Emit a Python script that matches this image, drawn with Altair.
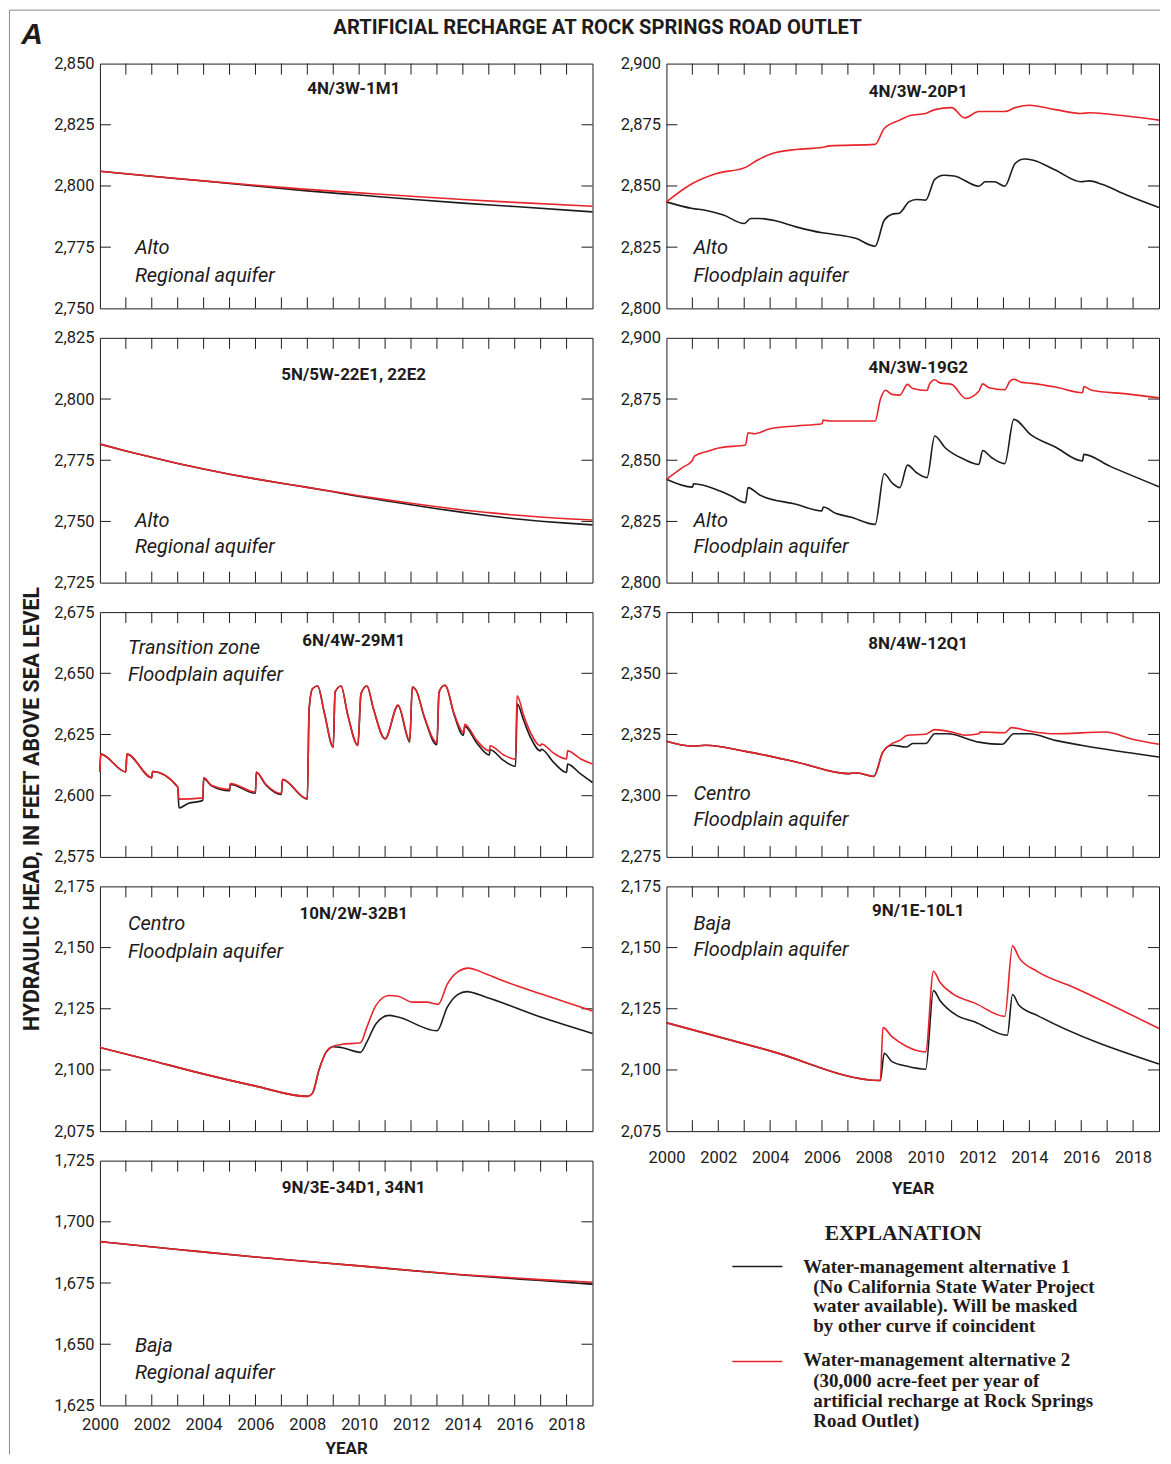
import altair as alt
import pandas as pd

FONT = "Roboto"
SERIF = "Liberation Serif"
BLACK = "#1e1b1c"
RED = "#e8242b"
GRAY = "#8a8a8a"
W, H = 493, 245
TICK = 11

X_DOMAIN = [2000, 2019]
X_TICK_YEARS = list(range(2001, 2019))
X_LABEL_YEARS = list(range(2000, 2019, 2))

MAIN_TITLE = ["ARTIFICIAL RECHARGE AT ROCK SPRINGS ROAD OUTLET"]
PANEL_LETTER = ["A"]
Y_TITLE = ["HYDRAULIC HEAD, IN FEET ABOVE SEA LEVEL"]
X_TITLE = "YEAR"

# ---- 4N/3W-1M1 (Alto, Regional aquifer)
w1m1_alt1 = [(2000, 2806.0), (2002, 2804.0), (2004, 2802.0), (2006, 2800.0), (2008, 2798.0),
             (2010, 2796.3), (2012, 2794.6), (2014, 2793.0), (2016, 2791.6), (2019, 2789.4)]
w1m1_alt2 = [(2000, 2806.0), (2002, 2804.0), (2004, 2802.1), (2006, 2800.3), (2008, 2798.6),
             (2010, 2797.2), (2012, 2795.8), (2014, 2794.5), (2016, 2793.3), (2019, 2791.7)]

# ---- 4N/3W-20P1 (Alto, Floodplain aquifer)
w20p1_alt1 = [(2000, 2843.5), (2001.0, 2840.8), (2001.5, 2840.1), (2002.2, 2838.1), (2003.0, 2834.7),
              (2003.25, 2836.7), (2003.6, 2836.7), (2004.2, 2835.8), (2005.0, 2833.3), (2006.0, 2830.9),
              (2006.4, 2830.3), (2007.3, 2828.6), (2008.05, 2825.4), (2008.4, 2836.0), (2008.7, 2838.4),
              (2009.0, 2839.0), (2009.35, 2843.5), (2009.65, 2844.5), (2010.0, 2844.2), (2010.35, 2852.7),
              (2010.7, 2854.4), (2011.1, 2854.1), (2012.05, 2849.9), (2012.3, 2851.7), (2012.65, 2851.7),
              (2013.05, 2849.9), (2013.45, 2859.2), (2013.8, 2861.0), (2014.15, 2860.5), (2015.0, 2856.5),
              (2016.0, 2851.7), (2016.3, 2852.1), (2016.8, 2850.7), (2017.75, 2846.3), (2019.0, 2841.2)]
w20p1_alt2 = [(2000, 2843.5), (2001.0, 2851.0), (2001.9, 2855.0), (2003.05, 2857.6), (2003.5, 2860.5),
              (2004.0, 2863.0), (2005.0, 2864.9), (2006.0, 2865.7), (2006.3, 2866.4), (2008.05, 2867.0),
              (2008.4, 2873.5), (2009.0, 2876.9), (2009.4, 2878.8), (2010.0, 2879.6), (2010.35, 2881.2),
              (2011.0, 2882.0), (2011.5, 2877.8), (2012.05, 2880.4), (2013.05, 2880.4), (2013.45, 2882.0),
              (2014.0, 2883.0), (2015.0, 2881.2), (2016.0, 2879.6), (2016.3, 2879.9), (2017.1, 2879.3),
              (2019.0, 2876.9)]

# ---- 5N/5W-22E1, 22E2 (Alto, Regional aquifer)
w22e_alt1 = [(2000, 2781.6), (2001, 2778.8), (2002, 2776.2), (2003, 2773.7), (2004, 2771.4), (2005, 2769.3),
             (2006, 2767.4), (2007, 2765.6), (2008, 2763.9), (2009, 2762.1), (2010, 2760.2), (2011, 2758.5),
             (2012, 2756.8), (2013, 2755.2), (2014, 2753.7), (2015, 2752.3), (2016, 2751.1), (2017, 2750.1),
             (2018, 2749.3), (2019, 2748.6)]
w22e_alt2 = [(2000, 2781.6), (2001, 2778.8), (2002, 2776.2), (2003, 2773.7), (2004, 2771.4), (2005, 2769.3),
             (2006, 2767.4), (2007, 2765.6), (2008, 2763.9), (2009, 2762.2), (2010, 2760.5), (2011, 2758.9),
             (2012, 2757.4), (2013, 2756.0), (2014, 2754.7), (2015, 2753.6), (2016, 2752.6), (2017, 2751.8),
             (2018, 2751.1), (2019, 2750.6)]

# ---- 4N/3W-19G2 (Alto, Floodplain aquifer)
w19g2_alt1 = [(2000, 2842.2), (2001.0, 2839.0), (2001.05, 2840.4), (2002.07, 2837.4), (2002.5, 2835.4),
              (2003.05, 2832.7), (2003.15, 2838.8), (2003.6, 2835.8), (2005.0, 2832.0), (2006.0, 2829.3),
              (2006.05, 2830.9), (2006.55, 2828.2), (2007.1, 2826.8), (2008.05, 2823.8), (2008.4, 2844.5),
              (2008.7, 2840.8), (2009.0, 2838.8), (2009.3, 2848.0), (2009.65, 2844.9), (2010.05, 2842.9),
              (2010.35, 2859.9), (2010.75, 2855.1), (2011.5, 2850.3), (2012.05, 2848.3), (2012.2, 2854.0),
              (2012.55, 2851.0), (2013.05, 2848.6), (2013.4, 2866.7), (2014.05, 2860.5), (2015.0, 2855.4),
              (2016.05, 2849.7), (2016.1, 2852.4), (2017.1, 2847.6), (2019.0, 2839.2)]
w19g2_alt2 = [(2000, 2842.2), (2000.6, 2846.9), (2001.0, 2849.9), (2001.08, 2851.7), (2001.6, 2853.7),
              (2002.07, 2855.1), (2003.05, 2856.2), (2003.15, 2861.2), (2003.4, 2860.8), (2004.0, 2862.9),
              (2005.0, 2864.0), (2006.0, 2864.9), (2006.05, 2866.4), (2006.3, 2866.0), (2008.05, 2866.0),
              (2008.25, 2874.8), (2008.45, 2878.6), (2008.7, 2876.9), (2009.0, 2876.6), (2009.3, 2881.0),
              (2009.5, 2879.3), (2010.05, 2878.5), (2010.15, 2881.2), (2010.35, 2882.9), (2010.55, 2881.6),
              (2011.0, 2881.0), (2011.55, 2875.2), (2012.05, 2878.2), (2012.2, 2881.2), (2012.45, 2879.6),
              (2013.05, 2878.8), (2013.25, 2882.3), (2013.4, 2883.1), (2013.7, 2881.8), (2014.1, 2881.4),
              (2015.0, 2879.9), (2016.05, 2877.6), (2016.1, 2880.1), (2016.4, 2878.6), (2017.75, 2877.1),
              (2019.0, 2875.5)]

# ---- 6N/4W-29M1 (Transition zone, Floodplain aquifer)
w29m1_alt1 = [(2000.0, 2609.7), (2000.03, 2617.0), (2001.0, 2609.7), (2001.04, 2617.0), (2002.0, 2607.4),
              (2002.03, 2609.9), (2003.0, 2603.6), (2003.05, 2595.0), (2003.4, 2596.8), (2003.97, 2598.0),
              (2004.0, 2607.0), (2004.3, 2604.0), (2005.0, 2602.0), (2005.03, 2604.6), (2006.0, 2601.0),
              (2006.03, 2609.5), (2006.4, 2604.4), (2007.0, 2600.5), (2007.04, 2606.5), (2008.0, 2598.6),
              (2008.07, 2635.5), (2008.2, 2643.7), (2008.4, 2644.8), (2008.65, 2634.2), (2009.0, 2619.8),
              (2009.07, 2642.3), (2009.3, 2644.8), (2009.55, 2633.5), (2009.95, 2620.5), (2010.07, 2641.6),
              (2010.3, 2644.8), (2010.55, 2635.5), (2011.0, 2623.2), (2011.5, 2636.8), (2011.95, 2622.0),
              (2012.05, 2644.4), (2012.2, 2643.0), (2012.5, 2632.5), (2013.0, 2620.8), (2013.08, 2642.3),
              (2013.3, 2645.1), (2013.35, 2644.8), (2013.65, 2633.5), (2014.02, 2624.7), (2014.07, 2628.3),
              (2014.55, 2621.3), (2015.02, 2616.6), (2015.05, 2618.8), (2015.58, 2614.3), (2016.03, 2612.0),
              (2016.1, 2637.4), (2016.35, 2630.6), (2016.61, 2623.8), (2016.99, 2618.3), (2017.03, 2619.0),
              (2017.5, 2613.6), (2018.0, 2609.5), (2018.04, 2612.9), (2018.55, 2608.8), (2019.0, 2605.4)]
w29m1_alt2 = [(2000.0, 2609.7), (2000.03, 2617.0), (2001.0, 2609.7), (2001.04, 2617.0), (2002.0, 2607.4),
              (2002.03, 2609.9), (2003.0, 2603.6), (2003.05, 2598.6), (2003.97, 2599.1), (2004.0, 2607.4),
              (2004.3, 2604.3), (2005.0, 2602.6), (2005.03, 2605.0), (2006.0, 2601.5), (2006.03, 2609.7),
              (2006.4, 2604.7), (2007.0, 2600.9), (2007.04, 2606.7), (2008.0, 2598.8), (2008.07, 2635.5),
              (2008.2, 2643.7), (2008.4, 2644.8), (2008.65, 2634.2), (2009.0, 2619.9), (2009.07, 2642.3),
              (2009.3, 2644.8), (2009.55, 2633.5), (2009.95, 2620.6), (2010.07, 2641.6), (2010.3, 2644.8),
              (2010.55, 2635.5), (2011.0, 2623.3), (2011.5, 2637.0), (2011.95, 2622.6), (2012.05, 2644.4),
              (2012.2, 2643.0), (2012.5, 2632.8), (2013.0, 2621.7), (2013.08, 2642.3), (2013.3, 2645.1),
              (2013.35, 2644.8), (2013.65, 2634.0), (2014.04, 2625.8), (2014.07, 2629.2), (2014.55, 2622.4),
              (2015.02, 2618.3), (2015.05, 2620.4), (2015.58, 2616.6), (2016.03, 2614.9), (2016.09, 2640.8),
              (2016.35, 2632.6), (2016.61, 2625.8), (2016.99, 2620.4), (2017.03, 2621.1), (2017.5, 2617.4),
              (2018.0, 2615.0), (2018.04, 2618.3), (2018.55, 2615.0), (2019.0, 2612.9)]

# ---- 8N/4W-12Q1 (Centro, Floodplain aquifer)
w12q1_alt1 = [(2000, 2322.2), (2001.0, 2320.2), (2001.5, 2320.6), (2003.05, 2318.1), (2005.0, 2313.8),
              (2007.0, 2309.0), (2007.3, 2309.4), (2008.0, 2307.9), (2008.35, 2317.9), (2008.7, 2320.6),
              (2009.25, 2319.9), (2009.5, 2321.3), (2010.0, 2321.3), (2010.35, 2325.3), (2010.85, 2325.3),
              (2012.05, 2321.9), (2012.95, 2321.0), (2013.4, 2325.3), (2014.0, 2325.3), (2015.0, 2322.6),
              (2016.0, 2320.6), (2019.0, 2315.8)]
w12q1_alt2 = [(2000, 2322.2), (2001.0, 2320.2), (2001.5, 2320.6), (2003.05, 2318.1), (2005.0, 2313.8),
              (2007.0, 2309.0), (2007.3, 2309.4), (2008.0, 2307.9), (2008.35, 2317.9), (2008.7, 2321.3),
              (2009.0, 2322.6), (2009.3, 2324.7), (2010.0, 2325.1), (2010.35, 2327.0), (2011.0, 2326.0),
              (2011.55, 2324.7), (2012.05, 2325.3), (2012.1, 2326.0), (2013.05, 2325.7), (2013.3, 2327.8),
              (2014.0, 2326.4), (2015.0, 2325.3), (2016.95, 2326.0), (2017.9, 2323.3), (2019.0, 2321.0)]

# ---- 10N/2W-32B1 (Centro, Floodplain aquifer)
w32b1_alt1 = [(2000, 2109.2), (2001.83, 2104.3), (2003.9, 2098.6), (2005.97, 2093.5), (2008.0, 2089.2),
              (2008.2, 2090.5), (2008.45, 2100.0), (2008.73, 2107.4), (2009.0, 2109.5), (2009.3, 2109.2),
              (2010.05, 2107.2), (2010.3, 2111.5), (2010.65, 2118.9), (2011.15, 2122.3), (2011.5, 2121.6),
              (2013.0, 2116.0), (2013.4, 2125.7), (2013.8, 2130.8), (2014.15, 2132.0), (2014.9, 2129.7),
              (2017.0, 2121.6), (2019.0, 2114.9)]
w32b1_alt2 = [(2000, 2109.2), (2001.83, 2104.3), (2003.9, 2098.6), (2005.97, 2093.5), (2008.0, 2089.2),
              (2008.2, 2090.5), (2008.45, 2100.0), (2008.73, 2107.4), (2009.0, 2109.7), (2009.3, 2110.4),
              (2010.05, 2111.1), (2010.3, 2117.6), (2010.65, 2126.4), (2011.15, 2130.4), (2011.5, 2130.1),
              (2012.05, 2127.7), (2012.6, 2127.7), (2013.05, 2126.8), (2013.4, 2135.1), (2013.8, 2140.1),
              (2014.2, 2141.6), (2014.9, 2139.2), (2015.6, 2136.2), (2017.0, 2131.1), (2019.0, 2124.1)]

# ---- 9N/1E-10L1 (Baja, Floodplain aquifer)
w10l1_alt1 = [(2000, 2119.3), (2004, 2107.8), (2008.25, 2095.7), (2008.4, 2106.8), (2008.7, 2103.4),
              (2009.25, 2101.6), (2010.0, 2100.3), (2010.3, 2132.4), (2010.55, 2128.4), (2011.2, 2122.3),
              (2011.9, 2119.6), (2013.15, 2114.2), (2013.35, 2130.8), (2013.6, 2126.4), (2014.3, 2122.3),
              (2019.0, 2102.4)]
w10l1_alt2 = [(2000, 2119.3), (2004, 2107.8), (2008.25, 2095.7), (2008.35, 2117.3), (2008.7, 2113.6),
              (2009.25, 2109.7), (2010.0, 2107.4), (2010.3, 2140.3), (2010.55, 2135.8), (2011.05, 2131.1),
              (2011.9, 2127.3), (2013.05, 2121.9), (2013.35, 2150.7), (2013.6, 2145.9), (2014.3, 2140.3),
              (2015.7, 2133.8), (2019.0, 2116.9)]

# ---- 9N/3E-34D1, 34N1 (Baja, Regional aquifer)
w34d1_alt1 = [(2000, 1691.9), (2003, 1688.7), (2006, 1685.6), (2010, 1682.0), (2014, 1678.3),
              (2017, 1676.0), (2019, 1674.5)]
w34d1_alt2 = [(2000, 1691.9), (2003, 1688.7), (2006, 1685.6), (2010, 1682.0), (2014, 1678.4),
              (2017, 1676.4), (2019, 1675.3)]

LEGEND_HEAD = ["EXPLANATION"]
LEGEND_1 = ["Water-management alternative 1", "(No California State Water Project",
            "water available). Will be masked", "by other curve if coincident"]
LEGEND_2 = ["Water-management alternative 2", "(30,000 acre-feet per year of",
            "artificial recharge at Rock Springs", "Road Outlet)"]

PANELS = [
    dict(title="4N/3W-1M1", alt1=w1m1_alt1, alt2=w1m1_alt2, dom=(2750, 2850),
         tpos=(254, 25), lab=["Alto", "Regional aquifer"], lpos=(35, 185, 213)),
    dict(title="4N/3W-20P1", alt1=w20p1_alt1, alt2=w20p1_alt2, dom=(2800, 2900),
         tpos=(252, 28), lab=["Alto", "Floodplain aquifer"], lpos=(27, 185, 213)),
    dict(title="5N/5W-22E1, 22E2", alt1=w22e_alt1, alt2=w22e_alt2, dom=(2725, 2825),
         tpos=(254, 37), lab=["Alto", "Regional aquifer"], lpos=(35, 183, 209)),
    dict(title="4N/3W-19G2", alt1=w19g2_alt1, alt2=w19g2_alt2, dom=(2800, 2900),
         tpos=(252, 30), lab=["Alto", "Floodplain aquifer"], lpos=(27, 183, 209)),
    dict(title="6N/4W-29M1", alt1=w29m1_alt1, alt2=w29m1_alt2, dom=(2575, 2675),
         tpos=(254, 29), lab=["Transition zone", "Floodplain aquifer"], lpos=(28, 36, 63)),
    dict(title="8N/4W-12Q1", alt1=w12q1_alt1, alt2=w12q1_alt2, dom=(2275, 2375),
         tpos=(252, 32), lab=["Centro", "Floodplain aquifer"], lpos=(27, 182, 208)),
    dict(title="10N/2W-32B1", alt1=w32b1_alt1, alt2=w32b1_alt2, dom=(2075, 2175),
         tpos=(254, 28), lab=["Centro", "Floodplain aquifer"], lpos=(28, 38, 66)),
    dict(title="9N/1E-10L1", alt1=w10l1_alt1, alt2=w10l1_alt2, dom=(2075, 2175),
         tpos=(252, 25), lab=["Baja", "Floodplain aquifer"], lpos=(27, 38, 64),
         xaxis=True, xpad=18, tpad=15),
    dict(title="9N/3E-34D1, 34N1", alt1=w34d1_alt1, alt2=w34d1_alt2, dom=(1625, 1725),
         tpos=(254, 27), lab=["Baja", "Regional aquifer"], lpos=(35, 186, 213),
         xaxis=True, xpad=11, tpad=8),
]


def one_row():
    return pd.DataFrame({"k": [0]})


def text_layer(txt, x, y, size, weight="normal", style="normal", font=FONT, align="center", angle=0):
    return alt.Chart(pd.DataFrame({"t": [txt]})).mark_text(
        font=font, fontSize=size, fontWeight=weight, fontStyle=style, align=align,
        baseline="middle", angle=angle, color=BLACK
    ).encode(text="t:N", x=alt.value(x), y=alt.value(y))


def make_panel(p, extra=None):
    lo, hi = p["dom"]
    yvals = list(range(lo, hi + 1, 25))
    if p.get("xaxis"):
        xaxis = alt.Axis(values=X_LABEL_YEARS, format="d", title=X_TITLE, labelPadding=p["xpad"],
                         titlePadding=p["tpad"], labelFlush=False)
    else:
        xaxis = None
    x = alt.X("year:Q", scale=alt.Scale(domain=X_DOMAIN, nice=False, zero=False), axis=xaxis)
    y = alt.Y("value:Q", scale=alt.Scale(domain=[lo, hi], nice=False, zero=False),
              axis=alt.Axis(values=yvals, format=",d", title=None, labelPadding=6, labelFlush=False))
    d1 = pd.DataFrame(p["alt1"], columns=["year", "value"])
    d2 = pd.DataFrame(p["alt2"], columns=["year", "value"])
    l1 = alt.Chart(d1).mark_line(color=BLACK, strokeWidth=1.6, interpolate="monotone").encode(x=x, y=y)
    l2 = alt.Chart(d2).mark_line(color=RED, strokeWidth=1.6, interpolate="monotone").encode(
        x="year:Q", y="value:Q")
    xt = pd.DataFrame({"year": X_TICK_YEARS})
    yt = pd.DataFrame({"value": yvals[1:-1]})
    tk = dict(color=BLACK, strokeWidth=1)
    t_top = alt.Chart(xt).mark_rule(**tk).encode(x="year:Q", y=alt.value(0), y2=alt.value(TICK))
    t_bot = alt.Chart(xt).mark_rule(**tk).encode(x="year:Q", y=alt.value(H - TICK), y2=alt.value(H))
    t_left = alt.Chart(yt).mark_rule(**tk).encode(y="value:Q", x=alt.value(0), x2=alt.value(TICK))
    t_right = alt.Chart(yt).mark_rule(**tk).encode(y="value:Q", x=alt.value(W - TICK), x2=alt.value(W))
    ttl = text_layer(p["title"], p["tpos"][0], p["tpos"][1], 17, weight="bold")
    lx, ly1, ly2 = p["lpos"]
    lab1 = text_layer(p["lab"][0], lx, ly1, 20, style="italic", align="left")
    lab2 = text_layer(p["lab"][1], lx, ly2, 20, style="italic", align="left")
    layers = [l1, t_top, t_bot, t_left, t_right, l2, ttl, lab1, lab2]
    if extra:
        layers += extra
    return alt.layer(*layers).properties(width=W, height=H)


# figure-level decorations, positioned relative to the first panel's plot area
frame_v = alt.Chart(one_row()).mark_rule(color=GRAY, strokeWidth=1).encode(
    x=alt.value(-90.5), y=alt.value(-53.5), y2=alt.value(1392))
frame_h = alt.Chart(one_row()).mark_rule(color=GRAY, strokeWidth=1).encode(
    x=alt.value(-90.5), x2=alt.value(1061), y=alt.value(-53.5))
main_title = text_layer(MAIN_TITLE[0], 498, -36, 20.2, weight="bold")
letter = text_layer(PANEL_LETTER[0], -68, -29, 30, weight="bold", style="italic", font="Liberation Sans")
ytitle = text_layer(Y_TITLE[0], -67, 746, 21.3, weight="bold", angle=270)

cells = []
for i, p in enumerate(PANELS):
    extra = [frame_v, frame_h, main_title, letter, ytitle] if i == 0 else None
    cells.append(make_panel(p, extra))

# explanation (legend) cell
leg_layers = [
    text_layer(LEGEND_HEAD[0], 237, 73, 21.5, weight="bold", font=SERIF),
    alt.Chart(one_row()).mark_rule(color=BLACK, strokeWidth=1.6).encode(
        x=alt.value(66), x2=alt.value(116), y=alt.value(106)),
    alt.Chart(one_row()).mark_rule(color=RED, strokeWidth=1.6).encode(
        x=alt.value(66), x2=alt.value(116), y=alt.value(201)),
]
for j, line in enumerate(LEGEND_1):
    leg_layers.append(text_layer(line, 137 if j == 0 else 147, 106 + 20 * j, 19,
                                 weight="bold", font=SERIF, align="left"))
for j, line in enumerate(LEGEND_2):
    leg_layers.append(text_layer(line, 137 if j == 0 else 147, 200 + 20.3 * j, 19,
                                 weight="bold", font=SERIF, align="left"))
legend_cell = alt.layer(*leg_layers).properties(
    width=W, height=H, view=alt.ViewBackground(stroke="transparent", strokeWidth=0))

order = [cells[0], cells[1], cells[2], cells[3], cells[4], cells[5], cells[6], cells[7], cells[8], legend_cell]

chart = alt.concat(*order, columns=2, spacing={"row": 29.5, "column": 74}, bounds="flush",
                   padding=0, background="white").configure_view(
    stroke=BLACK, strokeWidth=1
).configure_axis(
    labelFont=FONT, labelFontSize=16.5, labelColor=BLACK, titleFont=FONT, titleFontSize=17,
    titleFontWeight="bold", titleColor=BLACK, ticks=False, domain=False, grid=False
)

chart.save("out.html", embed_options={"renderer": "svg", "actions": False})
